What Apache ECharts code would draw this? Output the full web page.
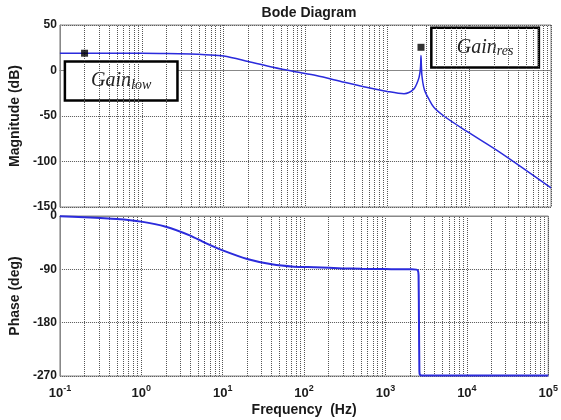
<!DOCTYPE html>
<html>
<head>
<meta charset="utf-8">
<script src="https://cdn.jsdelivr.net/npm/echarts@6/dist/echarts.min.js"></script>
<style>html,body{margin:0;padding:0;background:#fff}#c{width:561px;height:420px}</style>
</head>
<body>
<div id="c"></div>
<script>
// ---- data ----
const freq     = [0.1, 0.2, 0.5, 1, 2, 4, 6, 10, 20, 40, 75, 135, 300, 500, 1000, 1600, 2100, 2400, 2500, 2550, 2580, 2610, 2650, 2780, 2920, 3200, 3700, 4900, 9400, 23800, 100000];
const magDb    = [19, 19, 19, 19, 18.7, 18, 17.3, 16, 10, 3.5, -1.4, -5.5, -13, -17.5, -23, -25.5, -20.5, -10, -3, 5, 16.5, 5, -6, -18, -24, -31, -40.5, -50, -67, -90, -129];
const phaseDeg = [-0.5, -2, -5, -9.5, -18, -33, -45, -58, -72.5, -81.5, -85.5, -86.5, -88.5, -89, -89.5, -90, -90, -90.5, -92, -100, -180, -262, -268, -269, -269, -269, -269, -269, -269, -269, -269];
const xTickExp   = [-1, 0, 1, 2, 3, 4, 5];
const magTicks   = [-150, -100, -50, 0, 50];
const phaseTicks = [-270, -180, -90, 0];
const markerLow  = [0.2, 19];
const markerRes  = [2580, 25.5];
const boxLowX = [0.115, 2.73],  boxLowY = [10, -33];
const boxResX = [3450, 71100],  boxResY = [47, 3.3];

// ---- chart ----
const xMin = Math.pow(10, xTickExp[0]), xMax = Math.pow(10, xTickExp[xTickExp.length - 1]);
const minorVals = [];
for (let e = xTickExp[0]; e < xTickExp[xTickExp.length - 1]; e++)
  for (let k = 2; k <= 9; k++) minorVals.push(+(k * Math.pow(10, e)).toPrecision(3));

const lineColor = '#2b2bdc';
const gridLine = {type: 'dotted', color: '#555', width: 1};
const txt = '#1a1a1a';
const font = 'Arial, "Liberation Sans", sans-serif';

function xAxis(idx, labels) {
  return {
    type: 'log', logBase: 10, gridIndex: idx, min: xMin, max: xMax,
    axisLine: {lineStyle: {color: '#888'}},
    axisTick: {show: false},
    splitLine: {show: true, lineStyle: gridLine},
    axisLabel: labels ? {
      show: true, margin: 8, color: txt, fontFamily: font,
      formatter: v => '{b|10}{e|' + Math.round(Math.log10(v)) + '}',
      rich: {b: {fontSize: 13, fontWeight: 'bold', color: txt, fontFamily: font},
             e: {fontSize: 9, fontWeight: 'bold', color: txt, fontFamily: font, padding: [0, 0, 9, 0]}}
    } : {show: false},
    name: labels ? 'Frequency  (Hz)' : '', nameLocation: 'middle', nameGap: 27,
    nameTextStyle: {fontSize: 14, fontWeight: 'bold', color: txt, fontFamily: font}
  };
}
function yAxis(idx, ticks, name) {
  return {
    type: 'value', gridIndex: idx, min: ticks[0], max: ticks[ticks.length - 1],
    interval: ticks[1] - ticks[0],
    axisLine: {show: true, lineStyle: {color: '#888'}},
    axisTick: {show: false},
    splitLine: {show: true, lineStyle: gridLine},
    axisLabel: {fontSize: 12, fontWeight: 'bold', color: txt, fontFamily: font, margin: 3},
    name: name, nameLocation: 'middle', nameGap: 36,
    nameTextStyle: {fontSize: 14, fontWeight: 'bold', color: txt, fontFamily: font}
  };
}
const boxLabel = sub => ({
  show: true, position: 'inside',
  formatter: '{m|Gain}{s|' + sub + '}',
  rich: {m: {fontSize: 20, fontStyle: 'italic', fontFamily: '"Liberation Serif", serif', color: '#222'},
         s: {fontSize: 14, fontStyle: 'italic', fontFamily: '"Liberation Serif", serif', color: '#222', padding: [8, 0, 0, 0]}}
});
const boxStyle = {color: '#fff', borderColor: '#000', borderWidth: 2.5, opacity: 1};

const chart = echarts.init(document.getElementById('c'), null, {renderer: 'canvas'});
chart.setOption({
  animation: false,
  backgroundColor: '#fff',
  title: {text: 'Bode Diagram', left: 304, top: 1, textAlign: 'center',
          textStyle: {fontSize: 14, fontWeight: 'bold', color: txt, fontFamily: font}},
  grid: [
    {left: 58, right: 10, top: 25, height: 182, show: true, borderColor: '#888', borderWidth: 1, backgroundColor: '#fff'},
    {left: 58, right: 10, top: 216, height: 160, show: true, borderColor: '#888', borderWidth: 1, backgroundColor: '#fff'}
  ],
  xAxis: [xAxis(0, false), xAxis(1, true)],
  yAxis: [yAxis(0, magTicks, 'Magnitude (dB)'), yAxis(1, phaseTicks, 'Phase (deg)')],
  series: [
    {type: 'line', xAxisIndex: 0, yAxisIndex: 0, data: [], z: 1, silent: true,
     markLine: {silent: true, symbol: 'none', label: {show: false}, lineStyle: gridLine, animation: false,
                data: minorVals.map(v => ({xAxis: v}))}},
    {type: 'line', xAxisIndex: 1, yAxisIndex: 1, data: [], z: 1, silent: true,
     markLine: {silent: true, symbol: 'none', label: {show: false}, lineStyle: gridLine, animation: false,
                data: minorVals.map(v => ({xAxis: v}))}},
    {type: 'line', xAxisIndex: 0, yAxisIndex: 0, data: [], z: 3, silent: true,
     markArea: {silent: true, animation: false, data: [
       [{xAxis: boxLowX[0], yAxis: boxLowY[0], itemStyle: boxStyle, label: boxLabel('low')}, {xAxis: boxLowX[1], yAxis: boxLowY[1]}],
       [{xAxis: boxResX[0], yAxis: boxResY[0], itemStyle: boxStyle, label: boxLabel('res')}, {xAxis: boxResX[1], yAxis: boxResY[1]}]
     ]}},
    {type: 'line', xAxisIndex: 0, yAxisIndex: 0, z: 5, showSymbol: false, smooth: 0.3,
     data: freq.map((f, i) => [f, magDb[i]]), lineStyle: {color: lineColor, width: 1.5}},
    {type: 'line', xAxisIndex: 1, yAxisIndex: 1, z: 5, showSymbol: false, smooth: 0.2,
     data: freq.map((f, i) => [f, phaseDeg[i]]), lineStyle: {color: lineColor, width: 2}},
    {type: 'scatter', xAxisIndex: 0, yAxisIndex: 0, z: 6, symbol: 'rect', symbolSize: 7,
     itemStyle: {color: '#000'}, data: [markerLow, markerRes]}
  ]
});
</script>
</body>
</html>
